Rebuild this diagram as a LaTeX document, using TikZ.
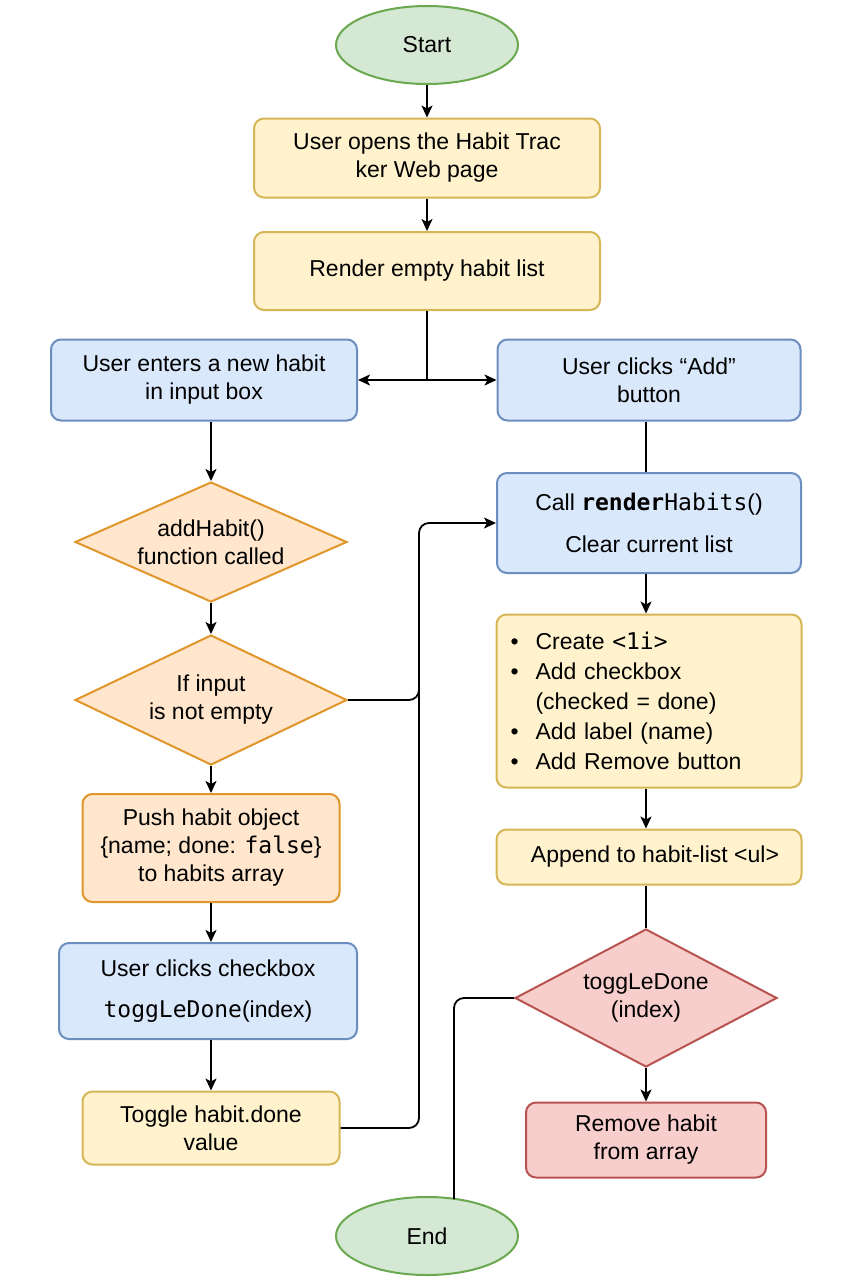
\documentclass[tikz,border=0pt]{standalone}
\usepackage{fontspec}
\setmainfont{Liberation Sans}
\setmonofont{DejaVu Sans Mono}
\usetikzlibrary{shapes.geometric,arrows.meta,calc}
\definecolor{gfill}{HTML}{D5E8D4}
\definecolor{gdraw}{HTML}{6AA84F}
\definecolor{yfill}{HTML}{FFF2CC}
\definecolor{ydraw}{HTML}{D6B656}
\definecolor{bfill}{HTML}{DAE8FC}
\definecolor{bdraw}{HTML}{6C8EBF}
\definecolor{ofill}{HTML}{FFE6CC}
\definecolor{odraw}{HTML}{E0962A}
\definecolor{rfill}{HTML}{F8CECC}
\definecolor{rdraw}{HTML}{B85450}
\begin{document}
\begin{tikzpicture}[x=1pt,y=-1pt,
  base/.style={line width=2pt, align=center, inner sep=0pt, text=black,
    font=\fontsize{23}{28}\selectfont},
  term/.style={base, ellipse, fill=gfill, draw=gdraw, minimum width=182pt, minimum height=78pt},
  box/.style={base, rectangle, rounded corners=10pt},
  ybox/.style={box, fill=yfill, draw=ydraw},
  bbox/.style={box, fill=bfill, draw=bdraw},
  obox/.style={box, fill=ofill, draw=odraw},
  rbox/.style={box, fill=rfill, draw=rdraw},
  dia/.style={base, diamond, aspect=2.2},
  odia/.style={dia, fill=ofill, draw=odraw},
  rdia/.style={dia, fill=rfill, draw=rdraw},
  conn/.style={line width=1.8pt, draw=black, rounded corners=10pt},
  arr/.style={conn, -{Stealth[length=12pt,width=11pt,inset=3pt]}},
]
\useasboundingbox (0,0) rectangle (853,1280);
\fill[white] (0,0) rectangle (853,1280);

% central / right column
\node[term] (start) at (427,45) {Start};
\node[ybox, minimum width=346pt, minimum height=79pt] (open) at (427,158)
  {User opens the Habit Trac\\ker Web page};
\node[ybox, minimum width=346pt, minimum height=78pt] (render) at (427,271)
  {Render empty habit list};
\node[bbox, minimum width=306pt, minimum height=81pt] (enter) at (204,380)
  {User enters a new habit\\in input box};
\node[bbox, minimum width=303pt, minimum height=81pt] (click) at (649,380)
  {User clicks “Add”\\button};
\node[bbox, minimum width=304pt, minimum height=100pt] (call) at (649,523)
  {Call {\ttfamily\bfseries render}{\ttfamily Habits}()\\[14pt]Clear current list};
\node[ybox, text width=277pt, inner xsep=14pt, minimum height=173pt, align=left,
  font=\fontsize{23}{30}\selectfont] (list) at (649,701)
  {\textbullet\hspace{17pt}Create {\ttfamily <1i>}\\
   \textbullet\hspace{17pt}Add checkbox\\
   \phantom{\textbullet}\hspace{17pt}(checked = done)\\
   \textbullet\hspace{17pt}Add label (name)\\
   \textbullet\hspace{17pt}Add Remove button};
\node[ybox, minimum width=305pt, minimum height=55pt] (append) at (649,857)
  {\hspace{12pt}Append to habit-list <ul>};
\node[rdia, minimum width=262pt, minimum height=138pt] (tog) at (646,998)
  {toggLeDone\\(index)};
\node[rbox, minimum width=240pt, minimum height=75pt] (remove) at (646,1140)
  {Remove habit\\from array};
\node[term] (End) at (427,1236) {End};

% left column
\node[odia, minimum width=272pt, minimum height=120pt] (d1) at (211,542)
  {addHabit()\\function called};
\node[odia, minimum width=272pt, minimum height=130pt] (d2) at (211,700)
  {If input\\is not empty};
\node[obox, minimum width=257pt, minimum height=108pt] (push) at (211,848)
  {Push habit object\\\{name; done: {\ttfamily false}\}\\to habits array};
\node[bbox, minimum width=298pt, minimum height=96pt] (check) at (208,991)
  {User clicks checkbox\\[13pt]{\ttfamily toggLeDone}(index)};
\node[ybox, minimum width=257pt, minimum height=73pt] (toggle) at (211,1128)
  {Toggle habit.done\\value};

\coordinate (j) at (427,380);
\coordinate (lx) at (419,0);
\coordinate (lj) at ($(lx |- d2.east)+(0,-12)$);
\coordinate (endin) at ($(End.center)+(27,-37)$);

\draw[arr] (start) -- (open);
\draw[arr] (open) -- (render);
\draw[conn] (render) -- (j);
\draw[arr] (j) -- (enter.east);
\draw[arr] (j) -- (click.west);
\draw[conn] (click.south -| tog.north) -- (call.north -| tog.north);
\draw[arr] (call.south -| tog.north) -- (list.north -| tog.north);
\draw[arr] (list.south -| tog.north) -- (append.north -| tog.north);
\draw[conn] (append.south -| tog.north) -- (tog.north);
\draw[arr] (tog) -- (remove);
\draw[conn] (tog.west) -| (endin);

\draw[arr] (enter.south -| d1.north) -- (d1.north);
\draw[arr] (d1) -- (d2);
\draw[arr] (d2) -- (push);
\draw[arr] (push) -- (check.north -| push);
\draw[arr] (check.south -| toggle) -- (toggle);
\draw[arr] (d2.east) -| (call.west -| lx) -- (call.west);
\draw[conn] (toggle.east) -| (lj);
\end{tikzpicture}
\end{document}
